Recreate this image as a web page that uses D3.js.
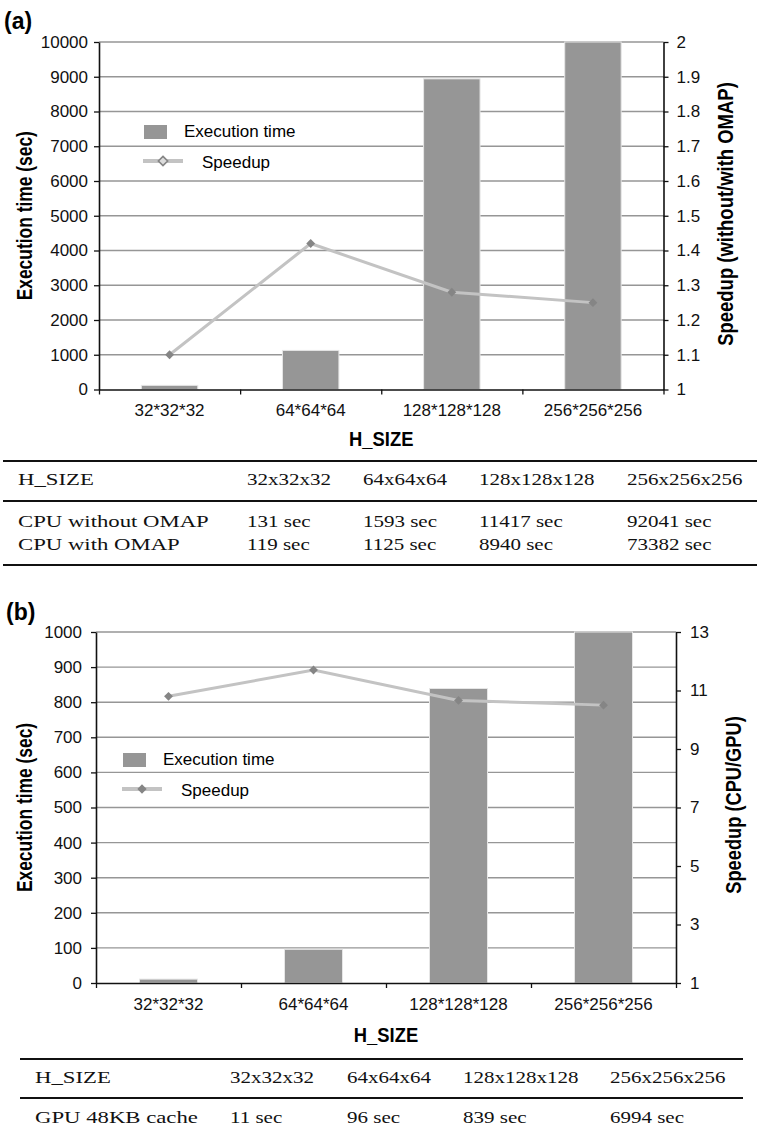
<!DOCTYPE html>
<html>
<head>
<meta charset="utf-8">
<script src="https://cdn.jsdelivr.net/npm/d3@7"></script>
<style>
  body { margin: 0; background: #fff; }
  svg { display: block; }
</style>
</head>
<body>
<div id="figure"></div>
<script>
// categories on the x axis and in the tables
const sizeLabels = ['32*32*32', '64*64*64', '128*128*128', '256*256*256'];
const tableSizes = ['32x32x32', '64x64x64', '128x128x128', '256x256x256'];

// (a) CPU times in seconds, and speedup without/with OMAP
const cpuWithoutOmap = [131, 1593, 11417, 92041];
const cpuWithOmap = [119, 1125, 8940, 73382];
const speedupOmap = [1.10, 1.42, 1.28, 1.25];
const timeTicksA = [0, 1000, 2000, 3000, 4000, 5000, 6000, 7000, 8000, 9000, 10000];
const speedTicksA = [1, 1.1, 1.2, 1.3, 1.4, 1.5, 1.6, 1.7, 1.8, 1.9, 2];

// (b) GPU times in seconds, and speedup CPU/GPU
const gpu48kb = [11, 96, 839, 6994];
const speedupGpu = [10.8, 11.7, 10.66, 10.5];
const timeTicksB = [0, 100, 200, 300, 400, 500, 600, 700, 800, 900, 1000];
const speedTicksB = [1, 3, 5, 7, 9, 11, 13];

const W = 757, H = 1138;
const sans = 'Arial, "Liberation Sans", sans-serif';
const serif = '"Liberation Serif", "Times New Roman", serif';

const svg = d3.select('#figure').append('svg')
  .attr('width', W)
  .attr('height', H)
  .style('font-family', sans);

function drawChart(cfg) {
  const g = svg.append('g');
  const x = d3.scaleBand().domain(sizeLabels).range([cfg.left, cfg.right]);
  const xEdge = d3.scaleLinear().domain([0, sizeLabels.length]).range([cfg.left, cfg.right]);
  const yTime = d3.scaleLinear().domain([0, d3.max(cfg.timeTicks)]).range([cfg.bottom, cfg.top]).clamp(true);
  const ySpeed = d3.scaleLinear().domain(d3.extent(cfg.speedTicks)).range([cfg.bottom, cfg.top]);
  const bw = x.bandwidth();
  const midY = (cfg.top + cfg.bottom) / 2;

  // panel letter
  g.append('text')
    .attr('x', cfg.labelX)
    .attr('y', cfg.labelY)
    .style('font-size', '23px')
    .style('font-weight', 'bold')
    .text(cfg.letter);

  // gridlines
  g.append('g').selectAll('line')
    .data(cfg.timeTicks.slice(1))
    .join('line')
    .attr('x1', cfg.left)
    .attr('x2', cfg.right)
    .attr('y1', d => yTime(d))
    .attr('y2', d => yTime(d))
    .attr('stroke', '#969696')
    .attr('stroke-width', 1.4);

  // bars
  g.append('g').selectAll('rect')
    .data(cfg.times)
    .join('rect')
    .attr('x', (d, i) => x(sizeLabels[i]) + bw * 0.3)
    .attr('width', bw * 0.4)
    .attr('y', d => yTime(d))
    .attr('height', d => cfg.bottom - yTime(d))
    .attr('fill', '#969696')
    .attr('stroke', '#e6e6e6')
    .attr('stroke-width', 1);

  // left axis
  const axL = g.append('g')
    .attr('transform', `translate(${cfg.left},0)`)
    .call(d3.axisLeft(yTime).tickValues(cfg.timeTicks).tickSize(5).tickSizeOuter(0).tickPadding(cfg.padL)
      .tickFormat(d3.format('d')));
  // right axis
  const axR = g.append('g')
    .attr('transform', `translate(${cfg.right},0)`)
    .call(d3.axisRight(ySpeed).tickValues(cfg.speedTicks).tickSize(5).tickSizeOuter(0).tickPadding(cfg.padR)
      .tickFormat(d3.format('~g')));
  // bottom axis: ticks at band edges, labels at band centres
  const axB = g.append('g')
    .attr('transform', `translate(0,${cfg.bottom})`)
    .call(d3.axisBottom(xEdge).tickValues(d3.range(sizeLabels.length + 1)).tickSize(5).tickSizeOuter(0).tickFormat(''));
  const axLabels = g.append('g')
    .attr('transform', `translate(0,${cfg.bottom})`)
    .call(d3.axisBottom(x).tickSize(0).tickPadding(cfg.padB));
  axLabels.select('.domain').remove();

  [axL, axR, axB, axLabels].forEach(a => {
    a.selectAll('.domain').attr('stroke', '#111').attr('stroke-width', 1.6);
    a.selectAll('.tick line').attr('stroke', '#111').attr('stroke-width', 1.3);
    a.selectAll('text').attr('fill', '#111').style('font-size', '17px').style('font-family', sans);
  });

  // speedup line and markers
  const pts = cfg.speedups.map((v, i) => [x(sizeLabels[i]) + bw / 2, ySpeed(v)]);
  g.append('path')
    .datum(pts)
    .attr('d', d3.line())
    .attr('fill', 'none')
    .attr('stroke', '#c3c3c3')
    .attr('stroke-width', 3);
  g.append('g').selectAll('path')
    .data(pts)
    .join('path')
    .attr('transform', d => `translate(${d[0]},${d[1]})`)
    .attr('d', d3.symbol(d3.symbolDiamond2, 50))
    .attr('fill', '#858585');

  // axis titles (condensed bold)
  g.append('text')
    .attr('transform', `translate(32,${midY}) rotate(-90) scale(0.81,1)`)
    .attr('text-anchor', 'middle')
    .style('font-size', '21.5px')
    .style('font-weight', 'bold')
    .text('Execution time (sec)');
  g.append('text')
    .attr('transform', `translate(${cfg.titleRX},${cfg.titleRY}) rotate(-90) scale(${cfg.titleRScale},1)`)
    .attr('text-anchor', 'middle')
    .style('font-size', '22px')
    .style('font-weight', 'bold')
    .text(cfg.speedTitle);
  g.append('text')
    .attr('transform', `translate(${(cfg.left + cfg.right) / 2},${cfg.hsizeY}) scale(0.92,1)`)
    .attr('text-anchor', 'middle')
    .style('font-size', '20px')
    .style('font-weight', 'bold')
    .text('H_SIZE');

  // legend
  const lg = g.append('g').style('font-size', '17px');
  lg.append('rect')
    .attr('x', cfg.legX).attr('y', cfg.legY)
    .attr('width', 23).attr('height', 14)
    .attr('fill', '#969696');
  lg.append('text')
    .attr('x', cfg.legX + 40).attr('y', cfg.legY + 12)
    .text('Execution time');
  lg.append('line')
    .attr('x1', cfg.legX - 1).attr('x2', cfg.legX + 39)
    .attr('y1', cfg.legY + 36).attr('y2', cfg.legY + 36)
    .attr('stroke', '#c3c3c3').attr('stroke-width', 4);
  lg.append('path')
    .attr('transform', `translate(${cfg.legX + 19},${cfg.legY + 36})`)
    .attr('d', d3.symbol(d3.symbolDiamond2, 55))
    .attr('fill', cfg.hollow ? '#dcdcdc' : '#858585')
    .attr('stroke', '#858585')
    .attr('stroke-width', cfg.hollow ? 1.6 : 0);
  lg.append('text')
    .attr('x', cfg.legX + 58).attr('y', cfg.legY + 43)
    .text('Speedup');
}

function drawTable(cfg) {
  const g = svg.append('g').style('font-family', serif).style('font-size', '17.5px').attr('fill', '#111');
  g.selectAll('line')
    .data(cfg.rules)
    .join('line')
    .attr('x1', cfg.x0).attr('x2', cfg.x1)
    .attr('y1', d => d).attr('y2', d => d)
    .attr('stroke', '#111')
    .attr('stroke-width', 2.2);
  const rows = [['H_SIZE'].concat(tableSizes)].concat(cfg.rows.map(r => [r.name].concat(r.values.map(v => v + ' sec'))));
  rows.forEach((row, ri) => {
    row.forEach((cell, ci) => {
      g.append('text')
        .attr('transform', `translate(${cfg.cols[ci]},${cfg.rowY[ri]}) scale(${ci === 0 ? 1.3 : 1.2},1)`)
        .text(cell);
    });
  });
}

drawChart({
  letter: '(a)', labelX: 4, labelY: 29,
  left: 99, right: 663.5, top: 42, bottom: 389.5,
  times: cpuWithOmap, speedups: speedupOmap,
  timeTicks: timeTicksA, speedTicks: speedTicksA,
  padL: 6, padR: 8, padB: 14,
  titleRX: 733, titleRY: 214, titleRScale: 0.84, speedTitle: 'Speedup (without/with OMAP)',
  hsizeY: 446,
  legX: 144, legY: 125, hollow: true
});
drawTable({
  x0: 3, x1: 757, rules: [461, 501, 565],
  cols: [18, 247, 363, 479, 627], rowY: [485, 527, 550],
  rows: [
    { name: 'CPU without OMAP', values: cpuWithoutOmap },
    { name: 'CPU with OMAP', values: cpuWithOmap }
  ]
});

drawChart({
  letter: '(b)', labelX: 6, labelY: 620,
  left: 96, right: 676, top: 632, bottom: 983,
  times: gpu48kb, speedups: speedupGpu,
  timeTicks: timeTicksB, speedTicks: speedTicksB,
  padL: 9, padR: 9, padB: 15,
  titleRX: 741, titleRY: 805, titleRScale: 0.83, speedTitle: 'Speedup (CPU/GPU)',
  hsizeY: 1042,
  legX: 123, legY: 753, hollow: false
});
drawTable({
  x0: 20, x1: 743, rules: [1059, 1098],
  cols: [35, 230, 347, 463, 610], rowY: [1083, 1123],
  rows: [
    { name: 'GPU 48KB cache', values: gpu48kb }
  ]
});
</script>
</body>
</html>
